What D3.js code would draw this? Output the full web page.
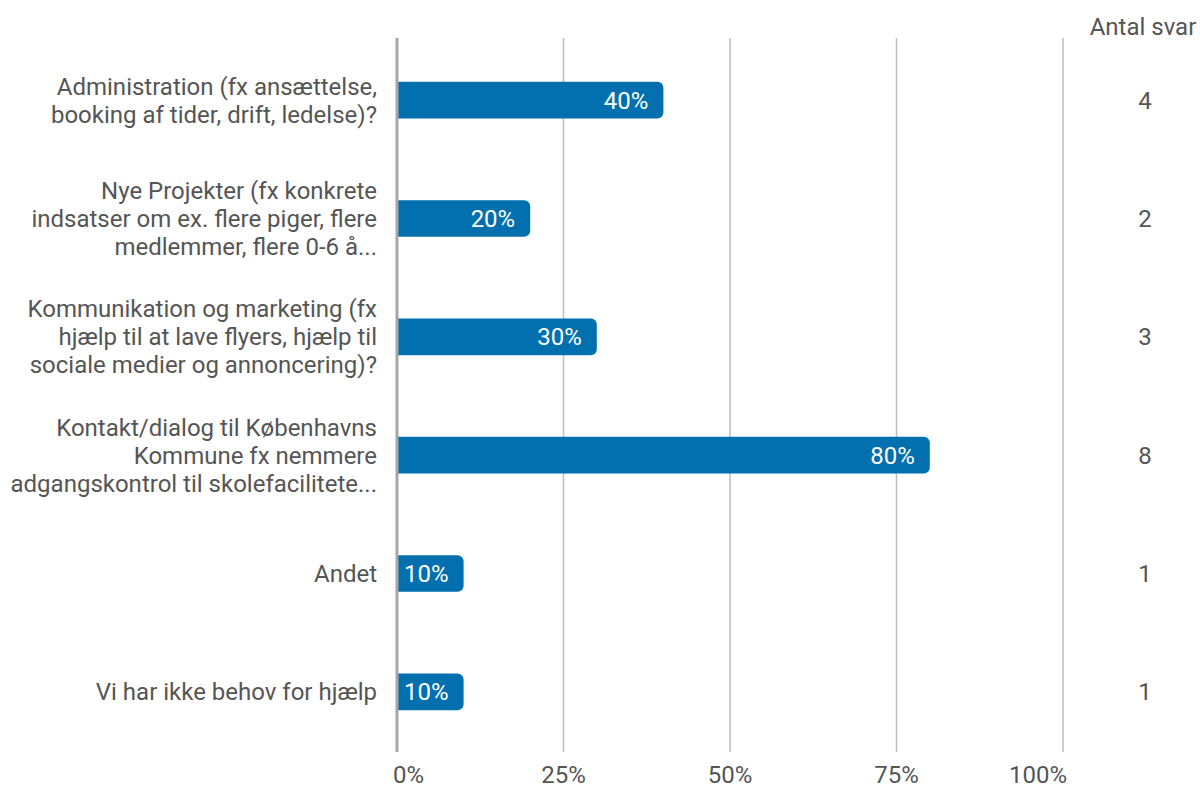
<!DOCTYPE html>
<html>
<head>
<meta charset="utf-8">
<script src="https://cdn.jsdelivr.net/npm/d3@7"></script>
<style>
  body { margin: 0; background: #fff; }
  text { font-family: Roboto, "Noto Sans", sans-serif; }
</style>
</head>
<body>
<div id="chart"></div>
<script>
const categories = [
  ['Administration (fx ansættelse,', 'booking af tider, drift, ledelse)?'],
  ['Nye Projekter (fx konkrete', 'indsatser om ex. flere piger, flere', 'medlemmer, flere 0-6 å...'],
  ['Kommunikation og marketing (fx', 'hjælp til at lave flyers, hjælp til', 'sociale medier og annoncering)?'],
  ['Kontakt/dialog til Københavns', 'Kommune fx nemmere', 'adgangskontrol til skolefacilitete...'],
  ['Andet'],
  ['Vi har ikke behov for hjælp']
];
const percents = [40, 20, 30, 80, 10, 10];
const counts = [4, 2, 3, 8, 1, 1];
const ticks = [0, 25, 50, 75, 100];

const width = 1200, height = 787;
const fontSize = 24;
const svg = d3.select('#chart').append('svg')
  .attr('width', width)
  .attr('height', height);

const x = d3.scaleLinear().domain([0, 100]).range([397, 1063]);
const y = d3.scaleBand()
  .domain(d3.range(categories.length))
  .range([41, 751])
  .paddingInner(0.69)
  .paddingOuter(0.345);

// grid lines
svg.append('g')
  .selectAll('line')
  .data(ticks.slice(1))
  .enter()
  .append('line')
  .attr('x1', d => x(d)).attr('x2', d => x(d))
  .attr('y1', 38).attr('y2', 752)
  .attr('stroke', '#bdbdbd')
  .attr('stroke-width', 1.5);

// tick labels (first and last kept inside the plot edges)
const last = ticks.length - 1;
svg.append('g')
  .selectAll('text')
  .data(ticks)
  .enter()
  .append('text')
  .attr('x', (d, i) => x(d) + (i === 0 ? -4 : i === last ? 4 : 0))
  .attr('y', 775)
  .attr('dy', '0.35em')
  .attr('text-anchor', (d, i) => i === 0 ? 'start' : i === last ? 'end' : 'middle')
  .attr('font-size', fontSize)
  .attr('fill', '#555')
  .text(d => d + '%');

// bars: square left, rounded right
const r = 6;
const h = y.bandwidth();
svg.append('g')
  .selectAll('path')
  .data(percents)
  .enter()
  .append('path')
  .attr('d', (d, i) => {
    const x0 = x(0), x1 = x(d), y0 = y(i);
    return `M${x0},${y0}H${x1 - r}A${r},${r} 0 0 1 ${x1},${y0 + r}` +
           `V${y0 + h - r}A${r},${r} 0 0 1 ${x1 - r},${y0 + h}H${x0}Z`;
  })
  .attr('fill', '#026fae');

// value labels
svg.append('g')
  .selectAll('text')
  .data(percents)
  .enter()
  .append('text')
  .attr('x', d => x(d) - 15)
  .attr('y', (d, i) => y(i) + h / 2)
  .attr('dy', '0.35em')
  .attr('text-anchor', 'end')
  .attr('font-size', fontSize)
  .attr('fill', '#fff')
  .text(d => d + '%');

// axis line
svg.append('line')
  .attr('x1', x(0)).attr('x2', x(0))
  .attr('y1', 38).attr('y2', 752)
  .attr('stroke', '#a6a6a6')
  .attr('stroke-width', 3);

// category labels
const lineH = 28;
const labels = svg.append('g')
  .selectAll('text')
  .data(categories)
  .enter()
  .append('text')
  .attr('text-anchor', 'end')
  .attr('font-size', fontSize)
  .attr('fill', '#555');

labels.each(function(lines, i) {
  const cy = y(i) + h / 2;
  const start = cy - (lines.length - 1) * lineH / 2;
  d3.select(this).selectAll('tspan')
    .data(lines)
    .enter()
    .append('tspan')
    .attr('x', 377)
    .attr('y', (d, j) => start + j * lineH)
    .attr('dy', '0.35em')
    .text(d => d);
});

// counts column
svg.append('text')
  .attr('x', 1143)
  .attr('y', 27)
  .attr('dy', '0.35em')
  .attr('text-anchor', 'middle')
  .attr('font-size', fontSize)
  .attr('fill', '#555')
  .text('Antal svar');

svg.append('g')
  .selectAll('text')
  .data(counts)
  .enter()
  .append('text')
  .attr('x', 1145)
  .attr('y', (d, i) => y(i) + h / 2)
  .attr('dy', '0.35em')
  .attr('text-anchor', 'middle')
  .attr('font-size', fontSize)
  .attr('fill', '#555')
  .text(d => d);
</script>
</body>
</html>
